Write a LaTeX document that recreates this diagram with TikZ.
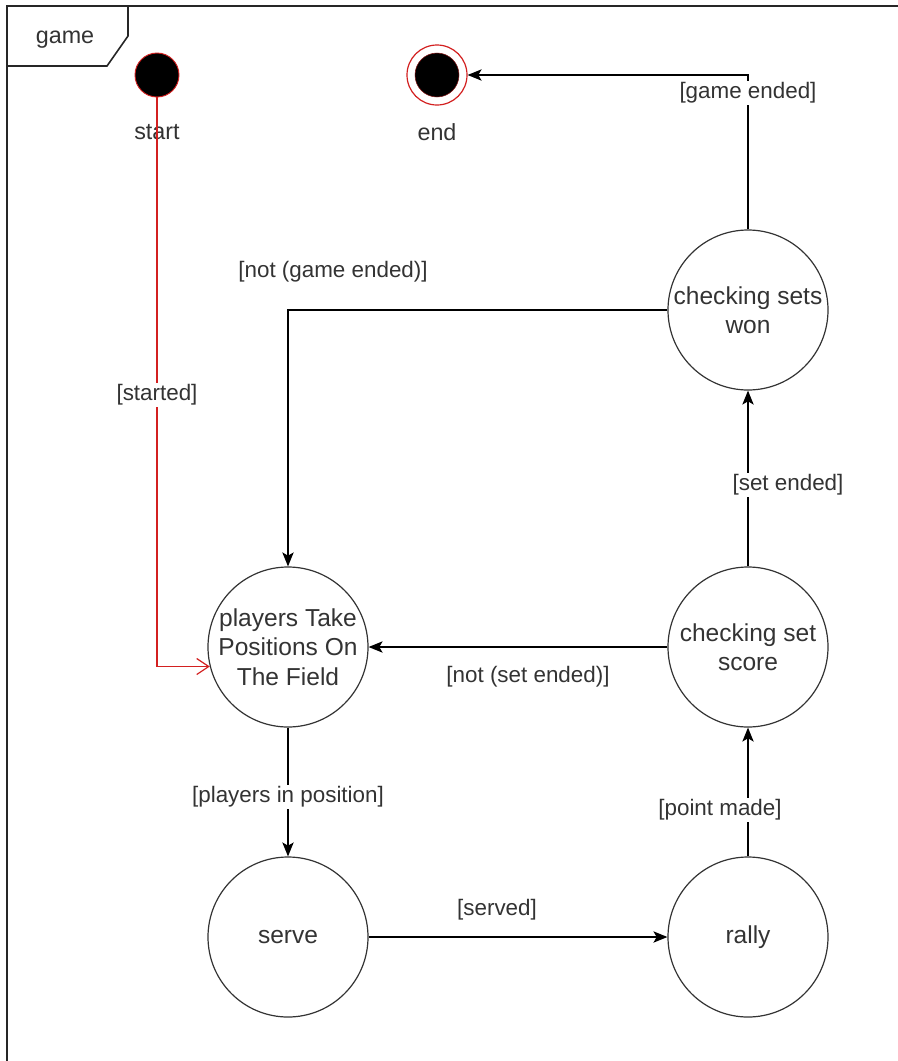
\documentclass[tikz,border=0pt]{standalone}
\usepackage{fontspec}
\setmainfont{Liberation Sans}
\usetikzlibrary{arrows.meta,calc}
\definecolor{txt}{HTML}{333333}
\definecolor{initred}{HTML}{D32020}
\begin{document}
\begin{tikzpicture}[x=0.75pt,y=-0.75pt,
  state/.style={circle,draw=black!80,line width=0.9pt,minimum size=120pt,inner sep=0pt,align=center,text=txt,font=\fontsize{18.4}{22}\selectfont},
  elabel/.style={text=txt,font=\fontsize{16.8}{20}\selectfont,inner sep=1pt},
  wlabel/.style={elabel,fill=white},
  trans/.style={draw=black,line width=1pt,-{Stealth[length=10.5pt,width=8.5pt,inset=2.5pt]}},
  itrans/.style={draw=initred,line width=0.9pt,-{Straight Barb[length=9pt,width=12pt,line width=0.9pt]}},
  frame/.style={draw=black!85,line width=1.2pt}]
\useasboundingbox (0,0) rectangle (898,1061);
% frame
\draw[frame] (7,1061) -- (7,6) -- (898,6);
\draw[frame] (7,66) -- (107,66) -- (128,36) -- (128,6);
\node[elabel,font=\fontsize{17.5}{20}\selectfont] (gamelbl) at (65,40) {game};
% initial / final
\node[circle,fill=black,draw=initred,line width=0.7pt,minimum size=33pt,inner sep=0pt] (start) at (157,75) {};
\node[elabel,font=\fontsize{17.5}{20}\selectfont] (startlbl) at (157,132) {start};
\node[circle,fill=white,draw=initred,line width=0.9pt,minimum size=45pt,inner sep=0pt] (end) at (437,75) {};
\node[circle,fill=black,draw=initred!60!black,line width=0.4pt,minimum size=33pt,inner sep=0pt] (endin) at (437,75) {};
\node[elabel,font=\fontsize{17.5}{20}\selectfont] (endlbl) at (437,132) {end};
% states
\node[state] (won) at (748,310) {checking sets\\won};
\node[state] (players) at (288,647) {players Take\\Positions On\\The Field};
\node[state] (score) at (748,647) {checking set\\score};
\node[state] (serve) at (288,937) {serve};
\node[state] (rally) at (748,937) {rally};
% transitions
\draw[itrans] (start.south) |- (players.194.5);
\node[wlabel] (l1) at (157,395) {[started]};
\draw[trans] (won.north) |- (end.east);
\node[wlabel] (l2) at (748,93) {[game ended]};
\draw[trans] (won.west) -| (players.north);
\node[elabel] (l3) at (333,272) {[not (game ended)]};
\draw[trans] (score.north) -- (won.south);
\node[wlabel] (l4) at (788,485) {[set ended]};
\draw[trans] (score.west) -- (players.east);
\node[elabel] (l5) at (528,677) {[not (set ended)]};
\draw[trans] (players.south) -- (serve.north);
\node[wlabel] (l6) at (288,797) {[players in position]};
\draw[trans] (serve.east) -- (rally.west);
\node[elabel] (l7) at (497,910) {[served]};
\draw[trans] (rally.north) -- (score.south);
\node[wlabel] (l8) at (720,810) {[point made]};
\end{tikzpicture}
\end{document}
